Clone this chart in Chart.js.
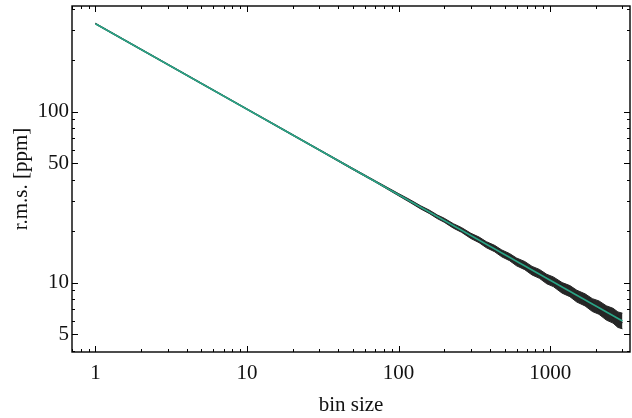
<!DOCTYPE html>
<html>
<head>
<meta charset="utf-8">
<script src="https://cdn.jsdelivr.net/npm/chart.js@4.4.0/dist/chart.umd.min.js"></script>
<style>
  html, body { margin: 0; padding: 0; background: #fff; }
</style>
</head>
<body>
<canvas id="rmsChart" width="632" height="418"></canvas>
<script>
const binSize = [1, 2, 3, 5, 7, 10, 15, 20, 30, 50, 70,
  100, 120, 140, 160, 180, 200, 230, 260, 300, 340, 380, 430, 480, 540, 600,
  680, 760, 850, 950, 1050, 1200, 1350, 1500, 1700, 1900, 2100, 2350, 2600, 2800, 3000];

// measured r.m.s. [ppm] (centre of the black scatter)
const rmsMeasured = [327.0, 231.2, 188.8, 146.2, 123.6, 103.4, 84.4, 73.1, 59.7, 46.2, 39.1,
  32.9, 29.6, 27.9, 25.6, 24.6, 22.9, 21.8, 20.0, 19.1, 17.5, 17.0, 15.5, 15.2, 13.8, 13.6,
  12.3, 12.1, 10.95, 10.85, 9.85, 9.7, 8.65, 8.7, 7.7, 7.75, 6.9, 7.0, 6.2, 6.4, 5.8];

// upper / lower edge of the black scatter band
const rmsUpper = [329.0, 232.6, 189.9, 147.1, 124.3, 104.0, 85.0, 73.6, 60.1, 46.6, 39.5,
  33.19, 30.45, 28.14, 26.52, 24.91, 23.81, 22.12, 21.01, 19.45, 18.47, 17.36, 16.53, 15.53, 14.80, 13.94,
  13.29, 12.45, 11.95, 11.19, 10.80, 10.01, 9.61, 9.03, 8.60, 8.06, 7.82, 7.32, 7.08, 6.74, 6.63];
const rmsLower = [325.0, 229.8, 187.7, 145.3, 122.9, 102.8, 83.9, 72.6, 59.3, 45.8, 38.8,
  32.21, 29.31, 26.98, 25.33, 23.69, 22.57, 20.83, 19.71, 18.12, 17.13, 16.00, 15.17, 14.15, 13.45, 12.55,
  11.91, 11.09, 10.60, 9.85, 9.48, 8.68, 8.28, 7.70, 7.31, 6.78, 6.53, 6.04, 5.80, 5.47, 5.37];

// expected white-noise r.m.s. (green line)
const modelBins = [1, 3000];
const modelRms = [327.0, 5.97];

const xTicks = [1, 10, 100, 1000];
const xTickLabels = ['1', '10', '100', '1000'];
const yTicks = [5, 10, 50, 100];
const yTickLabels = ['5', '10', '50', '100'];

const toPoints = (xs, ys) => xs.map((x, i) => ({ x, y: ys[i] }));

// inward ticks on all four sides + frame
const inwardTicks = {
  id: 'inwardTicks',
  afterDraw(chart) {
    const { ctx, chartArea: a, scales } = chart;
    const minorsFor = (scale, majors) => {
      const out = [];
      for (let k = -1; k <= 3; k++) {
        for (let d = 1; d <= 9; d++) {
          const v = d * Math.pow(10, k);
          if (v > scale.min && v < scale.max && !majors.includes(v)) out.push(v);
        }
      }
      return out;
    };
    ctx.save();
    ctx.strokeStyle = '#000';
    ctx.lineWidth = 1;
    ctx.beginPath();
    const xTick = (v, len) => {
      const px = Math.round(scales.x.getPixelForValue(v)) + 0.5;
      ctx.moveTo(px, a.bottom); ctx.lineTo(px, a.bottom - len);
      ctx.moveTo(px, a.top); ctx.lineTo(px, a.top + len);
    };
    const yTick = (v, len) => {
      const py = Math.round(scales.y.getPixelForValue(v)) + 0.5;
      ctx.moveTo(a.left, py); ctx.lineTo(a.left + len, py);
      ctx.moveTo(a.right, py); ctx.lineTo(a.right - len, py);
    };
    xTicks.forEach((v) => xTick(v, 6));
    minorsFor(scales.x, xTicks).forEach((v) => xTick(v, 3));
    yTicks.forEach((v) => yTick(v, 6));
    minorsFor(scales.y, yTicks).forEach((v) => yTick(v, 3));
    ctx.stroke();
    ctx.lineWidth = 1.4;
    ctx.strokeRect(a.left, a.top, a.right - a.left, a.bottom - a.top);
    ctx.restore();
  },
};

const noEdgePadding = (s) => {
  s.paddingTop = 0; s.paddingBottom = 0; s.paddingLeft = 0; s.paddingRight = 0;
};

Chart.defaults.font.family = "'Liberation Serif', 'DejaVu Serif', serif";
Chart.defaults.color = '#111';

new Chart(document.getElementById('rmsChart').getContext('2d'), {
  type: 'line',
  data: {
    datasets: [
      {
        label: 'white noise',
        data: toPoints(modelBins, modelRms),
        borderColor: '#2aa486',
        borderWidth: 1.6,
        pointRadius: 0,
      },
      {
        label: 'measured',
        data: toPoints(binSize, rmsMeasured),
        borderColor: '#1e1e1e',
        borderWidth: 1,
        pointRadius: 0,
      },
      {
        label: 'upper',
        data: toPoints(binSize, rmsUpper),
        borderColor: '#262626',
        backgroundColor: '#262626',
        borderWidth: 1,
        pointRadius: 0,
        fill: '+1',
      },
      {
        label: 'lower',
        data: toPoints(binSize, rmsLower),
        borderColor: '#262626',
        borderWidth: 1,
        pointRadius: 0,
      },
    ],
  },
  options: {
    responsive: false,
    animation: false,
    events: [],
    layout: { padding: { top: 6, right: 2, left: 0, bottom: 0 } },
    plugins: { legend: { display: false }, tooltip: { enabled: false } },
    scales: {
      x: {
        type: 'logarithmic',
        min: 0.705,
        max: 3365,
        afterBuildTicks: (s) => { s.ticks = xTicks.map((v) => ({ value: v })); },
        afterFit: (s) => { s.height = 66; noEdgePadding(s); },
        grid: { display: false, drawTicks: false },
        border: { display: false },
        ticks: {
          autoSkip: false,
          maxRotation: 0,
          padding: 9,
          font: { size: 21 },
          callback: (v) => xTickLabels[xTicks.indexOf(v)],
        },
        title: { display: true, text: 'bin size', font: { size: 21 }, padding: { top: 0, bottom: 0 } },
      },
      y: {
        type: 'logarithmic',
        min: 3.93,
        max: 415,
        afterBuildTicks: (s) => { s.ticks = yTicks.map((v) => ({ value: v })); },
        afterFit: (s) => { s.width = 72; noEdgePadding(s); },
        grid: { display: false, drawTicks: false },
        border: { display: false },
        ticks: {
          autoSkip: false,
          padding: 3,
          font: { size: 21 },
          callback: (v) => yTickLabels[yTicks.indexOf(v)],
        },
        title: { display: true, text: 'r.m.s. [ppm]', font: { size: 21 }, padding: { top: 9, bottom: 0 } },
      },
    },
  },
  plugins: [inwardTicks],
});
</script>
</body>
</html>
